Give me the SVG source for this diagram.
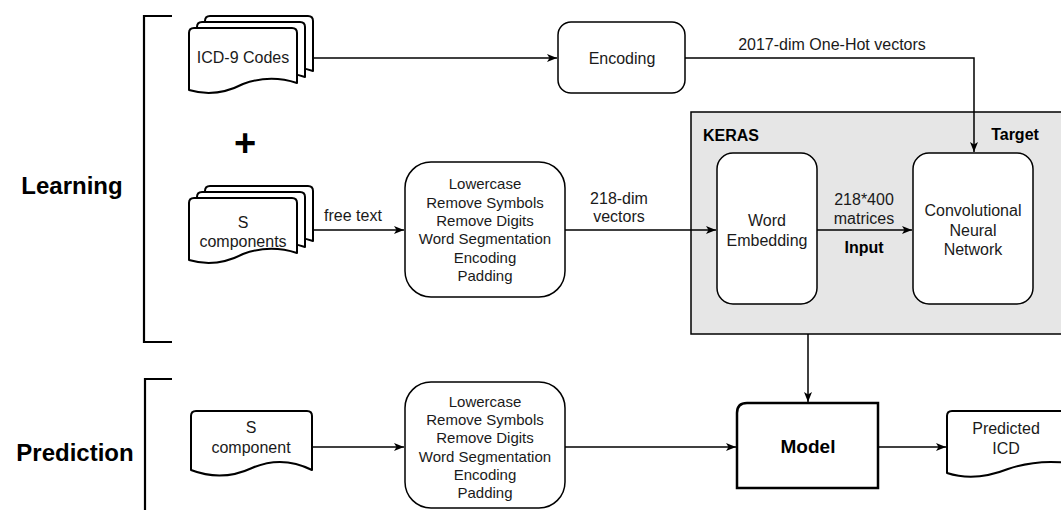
<svg xmlns="http://www.w3.org/2000/svg" width="1061" height="510" viewBox="0 0 1061 510">
<style>
.t{font-family:"Liberation Sans",Arial,sans-serif;font-size:16px;fill:#1a1a1a;text-anchor:middle}
.s{font-size:15px}
.b{font-weight:bold;fill:#000}
.box{fill:#fff;stroke:#000;stroke-width:1.5}
.doc{fill:#fff;stroke:#000;stroke-width:2;stroke-linejoin:round}
.ln{fill:none;stroke:#000;stroke-width:1.5}
.br{fill:none;stroke:#000;stroke-width:2.2}
</style>
<defs>
<marker id="ah" viewBox="0 0 10 8" refX="10" refY="4" markerWidth="10" markerHeight="8" orient="auto" markerUnits="userSpaceOnUse">
<path d="M0,0 L10,4 L0,8 L2.5,4 Z" fill="#000"/>
</marker>
<path id="doc3" d="M0,5 Q0,0 5,0 H103 Q108,0 108,5 V55 Q81,46 54,56 Q27,70 0,62 Z"/>
</defs>

<g id="labels">
<text class="t b" x="72" y="193.5" style="font-size:24px">Learning</text>
<text class="t b" x="75" y="460.5" style="font-size:24px">Prediction</text>
<text class="t b" x="245" y="156" style="font-size:38px">+</text>
</g>

<g id="brackets">
<path class="br" d="M172,16 H144 V342 H172"/>
<path class="br" d="M172,379 H145 V515"/>
</g>

<g id="keras">
<rect x="691" y="112" width="380" height="222" fill="#e6e6e6" stroke="#000" stroke-width="1.5"/>
<text class="t b" x="703" y="141" style="text-anchor:start">KERAS</text>
<text class="t b" x="1015" y="140">Target</text>
</g>

<g id="connectors">
<path class="ln" d="M313,58 H557" marker-end="url(#ah)"/>
<path class="ln" d="M685,58 H974 V152" marker-end="url(#ah)"/>
<path class="ln" d="M313,230 H404" marker-end="url(#ah)"/>
<path class="ln" d="M565,230 H716" marker-end="url(#ah)"/>
<path class="ln" d="M817,230 H912" marker-end="url(#ah)"/>
<path class="ln" d="M808,334 V402" marker-end="url(#ah)"/>
<path class="ln" d="M312,447 H404" marker-end="url(#ah)"/>
<path class="ln" d="M565,447 H736" marker-end="url(#ah)"/>
<path class="ln" d="M878,447 H946" marker-end="url(#ah)"/>
<text class="t" x="832" y="50">2017-dim One-Hot vectors</text>
<text class="t" x="353" y="221">free text</text>
<text class="t" x="619" y="204">218-dim</text>
<text class="t" x="619" y="222">vectors</text>
<text class="t" x="864" y="205">218*400</text>
<text class="t" x="864" y="224">matrices</text>
<text class="t b" x="864" y="253">Input</text>
</g>

<g id="icd9">
<use href="#doc3" class="doc" x="205" y="16"/>
<use href="#doc3" class="doc" x="197" y="22"/>
<use href="#doc3" class="doc" x="189" y="28"/>
<text class="t" x="243" y="63">ICD-9 Codes</text>
</g>

<g id="scomponents">
<use href="#doc3" class="doc" x="205" y="186"/>
<use href="#doc3" class="doc" x="197" y="192"/>
<use href="#doc3" class="doc" x="189" y="198"/>
<text class="t" x="243" y="228">S</text>
<text class="t" x="243" y="247">components</text>
</g>

<g id="encoding">
<rect class="box" x="558" y="22" width="127" height="71" rx="13"/>
<text class="t" x="622" y="64">Encoding</text>
</g>

<g id="preprocess1">
<rect class="box" x="405" y="162" width="160" height="135" rx="26"/>
<text class="t s" x="485" y="189">Lowercase</text>
<text class="t s" x="485" y="207.5">Remove Symbols</text>
<text class="t s" x="485" y="226">Remove Digits</text>
<text class="t s" x="485" y="244">Word Segmentation</text>
<text class="t s" x="485" y="262.5">Encoding</text>
<text class="t s" x="485" y="281">Padding</text>
</g>

<g id="wordembedding">
<rect class="box" x="717" y="153" width="100" height="151" rx="16"/>
<text class="t" x="767" y="226">Word</text>
<text class="t" x="767" y="246">Embedding</text>
</g>

<g id="cnn">
<rect class="box" x="913" y="153" width="120" height="151" rx="16"/>
<text class="t" x="973" y="216">Convolutional</text>
<text class="t" x="973" y="236">Neural</text>
<text class="t" x="973" y="255">Network</text>
</g>

<g id="scomponent">
<path class="doc" d="M191,416 Q191,411 196,411 H307 Q312,411 312,416 V470 Q282,455 252,468 Q222,482 191,470 Z"/>
<text class="t" x="251" y="433">S</text>
<text class="t" x="251" y="453">component</text>
</g>

<g id="preprocess2">
<rect class="box" x="405" y="382" width="160" height="126" rx="26"/>
<text class="t s" x="485" y="407">Lowercase</text>
<text class="t s" x="485" y="425">Remove Symbols</text>
<text class="t s" x="485" y="443">Remove Digits</text>
<text class="t s" x="485" y="461.5">Word Segmentation</text>
<text class="t s" x="485" y="480">Encoding</text>
<text class="t s" x="485" y="498">Padding</text>
</g>

<g id="model">
<path d="M737,413 Q737,403 747,403 H878 V488 H737 Z" fill="#fff" stroke="#000" stroke-width="2.5"/>
<text class="t b" x="808" y="453" style="font-size:19px">Model</text>
</g>

<g id="predicted">
<path class="doc" d="M947,416 Q947,411 952,411 H1075 V464 Q1040,458 1008,469 Q975,482 947,473 Z"/>
<text class="t" x="1006" y="434">Predicted</text>
<text class="t" x="1006" y="454">ICD</text>
</g>
</svg>
